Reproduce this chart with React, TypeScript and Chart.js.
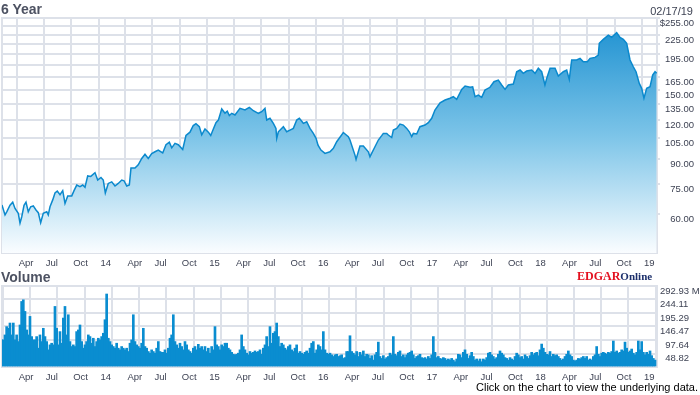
import React, { useEffect, useRef } from "react";
import { Chart, registerables } from "chart.js";

Chart.register(...registerables);

// ---- Price series (decimal year, USD) ----
const priceDates = [
  2013.111, 2013.139, 2013.155, 2013.185, 2013.21, 2013.231, 2013.261, 2013.277, 2013.293, 2013.314, 2013.332, 2013.353, 2013.375, 2013.399, 2013.424, 2013.445, 2013.467, 2013.491, 2013.523, 2013.537, 2013.553, 2013.578, 2013.599, 2013.62, 2013.645, 2013.67, 2013.691, 2013.716, 2013.753, 2013.774, 2013.799, 2013.829, 2013.854, 2013.875, 2013.9, 2013.928, 2013.967, 2013.992,
  2014.022, 2014.043, 2014.062, 2014.089, 2014.121, 2014.151, 2014.181, 2014.213, 2014.234, 2014.259, 2014.283, 2014.298, 2014.335, 2014.365, 2014.397, 2014.427, 2014.457, 2014.489, 2014.519, 2014.549, 2014.59, 2014.62, 2014.651, 2014.673, 2014.703, 2014.733, 2014.774, 2014.804, 2014.841, 2014.871, 2014.896, 2014.927, 2014.949, 2014.979,
  2015.01, 2015.032, 2015.056, 2015.08, 2015.102, 2015.133, 2015.163, 2015.184, 2015.203, 2015.225, 2015.255, 2015.301, 2015.347, 2015.387, 2015.424, 2015.47, 2015.501, 2015.531, 2015.547, 2015.577, 2015.608, 2015.632, 2015.639, 2015.654, 2015.7, 2015.731, 2015.761, 2015.792, 2015.823, 2015.847, 2015.884, 2015.915, 2015.945, 2015.976,
  2016.001, 2016.019, 2016.046, 2016.083, 2016.129, 2016.16, 2016.191, 2016.252, 2016.298, 2016.313, 2016.359, 2016.369, 2016.405, 2016.436, 2016.482, 2016.497, 2016.543, 2016.574, 2016.605, 2016.62, 2016.651, 2016.666, 2016.697, 2016.712, 2016.743, 2016.773, 2016.804, 2016.835, 2016.859, 2016.881, 2016.896, 2016.927, 2016.957,
  2017.003, 2017.034, 2017.065, 2017.095, 2017.142, 2017.188, 2017.234, 2017.264, 2017.295, 2017.341, 2017.372, 2017.418, 2017.442, 2017.464, 2017.494, 2017.525, 2017.555, 2017.601, 2017.638, 2017.678, 2017.709, 2017.74, 2017.77, 2017.816, 2017.847, 2017.878, 2017.908, 2017.939, 2017.985,
  2018.016, 2018.046, 2018.077, 2018.107, 2018.123, 2018.154, 2018.2, 2018.23, 2018.276, 2018.307, 2018.331, 2018.353, 2018.399, 2018.43, 2018.46, 2018.497, 2018.522, 2018.568, 2018.598, 2018.607, 2018.644, 2018.69, 2018.721, 2018.767, 2018.798, 2018.828, 2018.859, 2018.89, 2018.92, 2018.945, 2018.975, 2018.997,
  2019.018, 2019.043, 2019.074, 2019.098, 2019.12, 2019.135,
];
const priceValues = [
  64.1, 59.6, 61, 64, 65.5, 62.5, 60.3, 56.1, 58.8, 64, 65.5, 61, 63.3, 63.7, 61.8, 60.6, 56.3, 60.3, 61, 59.6, 63.3, 66.6, 70.1, 71.1, 69.2, 71.3, 64.9, 68.6, 68.6, 71.3, 74.3, 73.4, 74.3, 73.1, 79.5, 79.2, 81.4, 77.1,
  78.6, 77.1, 70.1, 75.2, 76.1, 73.8, 75.2, 77.1, 76.7, 73.8, 74.3, 84.2, 84.2, 86.3, 90.4, 93.3, 90.4, 93.8, 95, 96.2, 94.2, 100.1, 102, 97.8, 101.1, 100.1, 96.6, 107.1, 109.8, 115.3, 116.9, 114.4, 107.7, 112.4,
  109.8, 107.1, 112.4, 117.8, 120, 130.3, 126.3, 128.1, 124.2, 126.2, 124.6, 130.9, 129.3, 131.9, 128.6, 126.2, 127.7, 130.9, 120.1, 121.6, 117.2, 112.9, 104.9, 110.1, 114.3, 110.1, 111.5, 112.9, 120.1, 121.6, 117.2, 118.6, 112.9, 108.8,
  104.9, 99.8, 96.2, 93.9, 95, 97.4, 102.3, 109.5, 106.2, 103.6, 92.7, 89.8, 99.1, 99.1, 95, 91.6, 98.6, 103.6, 107, 108.8, 108.8, 107.5, 105.5, 111.5, 112.9, 116.6, 115.7, 112.9, 110.1, 106.2, 108.8, 108.3, 114.3,
  115.7, 117.7, 121.6, 129.3, 136.4, 139.2, 141, 142.6, 139.9, 150.6, 154.3, 152.9, 153.5, 142.6, 144.4, 142, 149.8, 152.9, 159.3, 161.3, 155.5, 150.6, 155.5, 156.6, 171.5, 173.7, 169.5, 172.4, 173.7,
  169.5, 175.9, 171.5, 155.5, 163.3, 175.9, 175.9, 166.1, 171.5, 173.7, 162.1, 187, 187, 189.3, 184.6, 184.6, 189.3, 190.7, 194, 211.5, 217.8, 224.8, 221.1, 229, 221.1, 217.8, 211.5, 187, 177.9, 171.5, 157.4, 151.7,
  141, 151.7, 153.5, 167.4, 171.5, 169.5,
];

// ---- Volume series (millions of shares), one bar every ~5.6 days ----
const volumeStart = 2013.108;
const volumeStep = 0.015336;
const volumeValues = [
  98, 98, 116, 146, 140, 159, 116, 159, 98, 116, 92, 152, 237, 243, 201, 134, 116, 183, 110, 98,
  98, 110, 68, 116, 92, 140, 110, 92, 62, 80, 86, 80, 219, 140, 80, 128, 86, 177, 219, 116,
  189, 92, 74, 80, 74, 128, 134, 152, 92, 68, 80, 92, 116, 110, 86, 104, 74, 92, 104, 98,
  110, 122, 171, 264, 104, 92, 80, 74, 68, 86, 68, 62, 74, 68, 62, 68, 56, 86, 98, 189,
  92, 80, 74, 68, 86, 140, 74, 68, 56, 50, 62, 56, 50, 68, 92, 56, 53, 53, 62, 50,
  68, 104, 116, 189, 92, 80, 68, 86, 74, 62, 92, 80, 62, 56, 50, 68, 74, 62, 82, 68,
  74, 62, 74, 56, 68, 50, 74, 62, 146, 80, 74, 62, 80, 74, 86, 86, 68, 62, 53, 46,
  44, 46, 50, 62, 116, 74, 62, 50, 44, 56, 50, 53, 58, 53, 56, 62, 46, 68, 80, 110,
  74, 146, 86, 122, 128, 159, 110, 74, 86, 80, 68, 62, 74, 80, 62, 56, 68, 80, 50, 56,
  50, 46, 53, 58, 50, 68, 86, 92, 50, 62, 80, 74, 62, 128, 62, 50, 46, 50, 44, 38,
  44, 46, 38, 41, 44, 31, 34, 56, 56,
  113, 56, 50, 44, 56, 38, 53, 44, 58, 38, 46, 44, 31, 41, 25, 44, 53, 90, 38, 31,
  41, 29, 34, 38, 50, 44, 110, 46, 41, 53, 58, 38, 44, 34, 44, 50, 53, 58, 44, 31,
  38, 41, 46, 34, 31, 34, 29, 38, 31, 44, 110, 53, 34, 38, 31, 29, 34, 31, 25, 29,
  25, 31, 25, 19, 29, 46, 44, 34, 53, 62, 46, 31, 41, 53, 38, 25, 29, 22, 29, 19,
  29, 25, 34, 50, 53, 44, 38, 29, 34, 46, 58, 50, 44, 34, 31, 25, 34, 29, 25, 38,
  50, 44, 34, 38, 29, 44, 38, 31, 41, 53, 44, 50, 53, 41, 62, 83, 68, 53, 46, 44,
  56, 38, 46, 41, 44, 38, 31, 25, 29, 38, 46, 58, 44, 38, 25, 22, 25, 31, 29, 34,
  38, 31, 38, 25, 29, 25, 38, 44, 74, 46, 38, 50, 53, 50, 46, 53, 50, 56, 94, 53,
  58, 50, 53, 62, 58, 90, 68, 53, 58, 65, 50, 44, 53, 94, 62, 92, 53, 44, 53, 46,
  58, 41, 31, 25,
];

// ---- Axis ticks ----
const X_MIN = 2013.1113;
const X_MAX = 2019.138;
const tickYears = [2013, 2014, 2015, 2016, 2017, 2018, 2019];
const quarterStarts = [0, 0.2466, 0.4959, 0.7479];
const quarterNames = ["", "Apr", "Jul", "Oct"];

const priceTickValues = [60, 75, 90, 105, 120, 135, 150, 165, 180, 195, 210, 225, 240, 255];
const priceTickLabels = ["60.00", "75.00", "90.00", "105.00", "120.00", "135.00", "150.00", "165.00", "", "195.00", "", "225.00", "", "$255.00"];

const volumeTickValues = [0, 48.82, 97.64, 146.47, 195.29, 244.11, 292.93];
const volumeTickLabels = ["", "  48.82", "  97.64", "146.47", "195.29", "244.11", "292.93 M"];

const GRID = "#dde1e9";
const TEXT = "#3e4354";
const FONT = '"Liberation Sans", Arial, sans-serif';

const xTicks: { value: number; label: string }[] = [];
for (const yr of tickYears) {
  for (let q = 0; q < 4; q++) {
    const v = yr + quarterStarts[q];
    if (v >= X_MIN && v <= X_MAX) {
      xTicks.push({ value: v, label: q === 0 ? String(yr).slice(2) : quarterNames[q] });
    }
  }
}

function xAxis(height: number) {
  return {
    type: "linear" as const,
    position: "bottom" as const,
    min: X_MIN,
    max: X_MAX,
    offset: false,
    afterBuildTicks: (s: any) => {
      s.ticks = xTicks.map((t) => ({ value: t.value }));
    },
    afterFit: (s: any) => {
      s.height = height;
    },
    grid: { color: GRID, lineWidth: 2, drawTicks: false },
    border: { color: GRID, width: 2 },
    ticks: {
      autoSkip: false,
      maxRotation: 0,
      minRotation: 0,
      align: "start" as const,
      labelOffset: 2,
      padding: 5,
      color: TEXT,
      font: { family: FONT, size: 9.5 },
      callback: (_v: any, i: number) => (xTicks[i] ? xTicks[i].label : ""),
    },
  };
}

const leftBorderAxis = {
  type: "linear" as const,
  position: "left" as const,
  display: true,
  grid: { display: false, drawTicks: false },
  ticks: { display: false },
  border: { color: GRID, width: 2 },
  afterFit: (s: any) => {
    s.width = 0;
  },
};

export default function App() {
  const priceRef = useRef<HTMLCanvasElement>(null);
  const volRef = useRef<HTMLCanvasElement>(null);

  useEffect(() => {
    const n = Math.min(priceDates.length, priceValues.length);
    const priceData = [];
    for (let i = 0; i < n; i++) priceData.push({ x: priceDates[i], y: priceValues[i] });

    const pc = new Chart(priceRef.current as HTMLCanvasElement, {
      type: "line",
      data: {
        datasets: [
          {
            data: priceData as any,
            borderColor: "#0b89cd",
            borderWidth: 1.5,
            pointRadius: 0,
            tension: 0,
            fill: "start",
            backgroundColor: (ctx: any) => {
              const chart = ctx.chart;
              const area = chart.chartArea;
              if (!area) return "rgba(0,0,0,0)";
              const g = chart.ctx.createLinearGradient(0, area.top, 0, area.bottom);
              g.addColorStop(0, "#1a8fd0");
              g.addColorStop(0.5, "#7cc4e8");
              g.addColorStop(1, "#fafdff");
              return g;
            },
            yAxisID: "y",
          },
        ],
      },
      options: {
        responsive: false,
        animation: false,
        events: [],
        layout: { padding: { top: 18, left: 2, right: 6, bottom: 0 } },
        plugins: { legend: { display: false }, tooltip: { enabled: false } },
        scales: {
          x: xAxis(17) as any,
          lb: leftBorderAxis as any,
          y: {
            type: "logarithmic",
            position: "right",
            min: 45,
            max: 255,
            afterBuildTicks: (s: any) => {
              s.ticks = priceTickValues.map((v) => ({ value: v }));
            },
            afterFit: (s: any) => {
              s.width = 37;
            },
            grid: { color: GRID, lineWidth: 2, drawTicks: true, tickLength: 3 },
            border: { color: GRID, width: 2 },
            ticks: {
              autoSkip: false,
              crossAlign: "far",
              padding: 2,
              labelOffset: 5.5,
              color: TEXT,
              font: { family: FONT, size: 9.5 },
              callback: (_v: any, i: number) => priceTickLabels[i] ?? "",
            },
          } as any,
        },
      },
    });

    const volData = volumeValues.map((v, i) => ({ x: volumeStart + i * volumeStep, y: v }));
    const vc = new Chart(volRef.current as HTMLCanvasElement, {
      type: "bar",
      data: {
        datasets: [
          {
            data: volData as any,
            backgroundColor: "#0a8dd0",
            borderWidth: 0,
            barThickness: 2,
            grouped: false,
            yAxisID: "y",
          } as any,
        ],
      },
      options: {
        responsive: false,
        animation: false,
        events: [],
        layout: { padding: { top: 16, left: 2, right: 0, bottom: 0 } },
        plugins: { legend: { display: false }, tooltip: { enabled: false } },
        scales: {
          x: xAxis(18) as any,
          lb: leftBorderAxis as any,
          y: {
            type: "linear",
            position: "right",
            min: 0,
            max: 292.93,
            afterBuildTicks: (s: any) => {
              s.ticks = volumeTickValues.map((v) => ({ value: v }));
            },
            afterFit: (s: any) => {
              s.width = 43;
            },
            grid: { color: GRID, lineWidth: 2, drawTicks: false },
            border: { color: GRID, width: 2 },
            ticks: {
              autoSkip: false,
              crossAlign: "near",
              padding: 3,
              labelOffset: 5,
              color: TEXT,
              font: { family: FONT, size: 9.5 },
              callback: (_v: any, i: number) => volumeTickLabels[i] ?? "",
            },
          } as any,
        },
      },
    });

    return () => {
      pc.destroy();
      vc.destroy();
    };
  }, []);

  const title: React.CSSProperties = {
    position: "absolute",
    fontFamily: FONT,
    fontWeight: "bold",
    fontSize: 14,
    lineHeight: "16px",
    color: "#4d5262",
    whiteSpace: "nowrap",
  };

  return (
    <div
      style={{
        position: "absolute",
        left: 0,
        top: 0,
        width: 700,
        height: 395,
        background: "#ffffff",
        overflow: "hidden",
      }}
    >
      <canvas ref={priceRef} width={700} height={270} style={{ position: "absolute", left: 0, top: 0 }} />
      <canvas ref={volRef} width={700} height={115} style={{ position: "absolute", left: 0, top: 270 }} />
      <div style={{ ...title, left: 1, top: 1 }}>6 Year</div>
      <div
        style={{
          position: "absolute",
          right: 7,
          top: 5,
          fontFamily: FONT,
          fontSize: 11,
          lineHeight: "13px",
          color: TEXT,
          whiteSpace: "nowrap",
        }}
      >
        02/17/19
      </div>
      <div style={{ ...title, left: 1, top: 269 }}>Volume</div>
      <div
        style={{
          position: "absolute",
          left: 577,
          top: 268,
          fontFamily: '"Liberation Serif", "Times New Roman", serif',
          fontWeight: "bold",
          lineHeight: "14px",
          whiteSpace: "nowrap",
        }}
      >
        <span style={{ color: "#e3101f", fontSize: 12 }}>EDGAR</span>
        <span style={{ color: "#1c2f6b", fontSize: 11 }}>Online</span>
      </div>
      <div
        style={{
          position: "absolute",
          right: 2,
          top: 381,
          fontFamily: FONT,
          fontSize: 11,
          lineHeight: "13px",
          color: "#000000",
          whiteSpace: "nowrap",
        }}
      >
        Click on the chart to view the underlying data.
      </div>
    </div>
  );
}
